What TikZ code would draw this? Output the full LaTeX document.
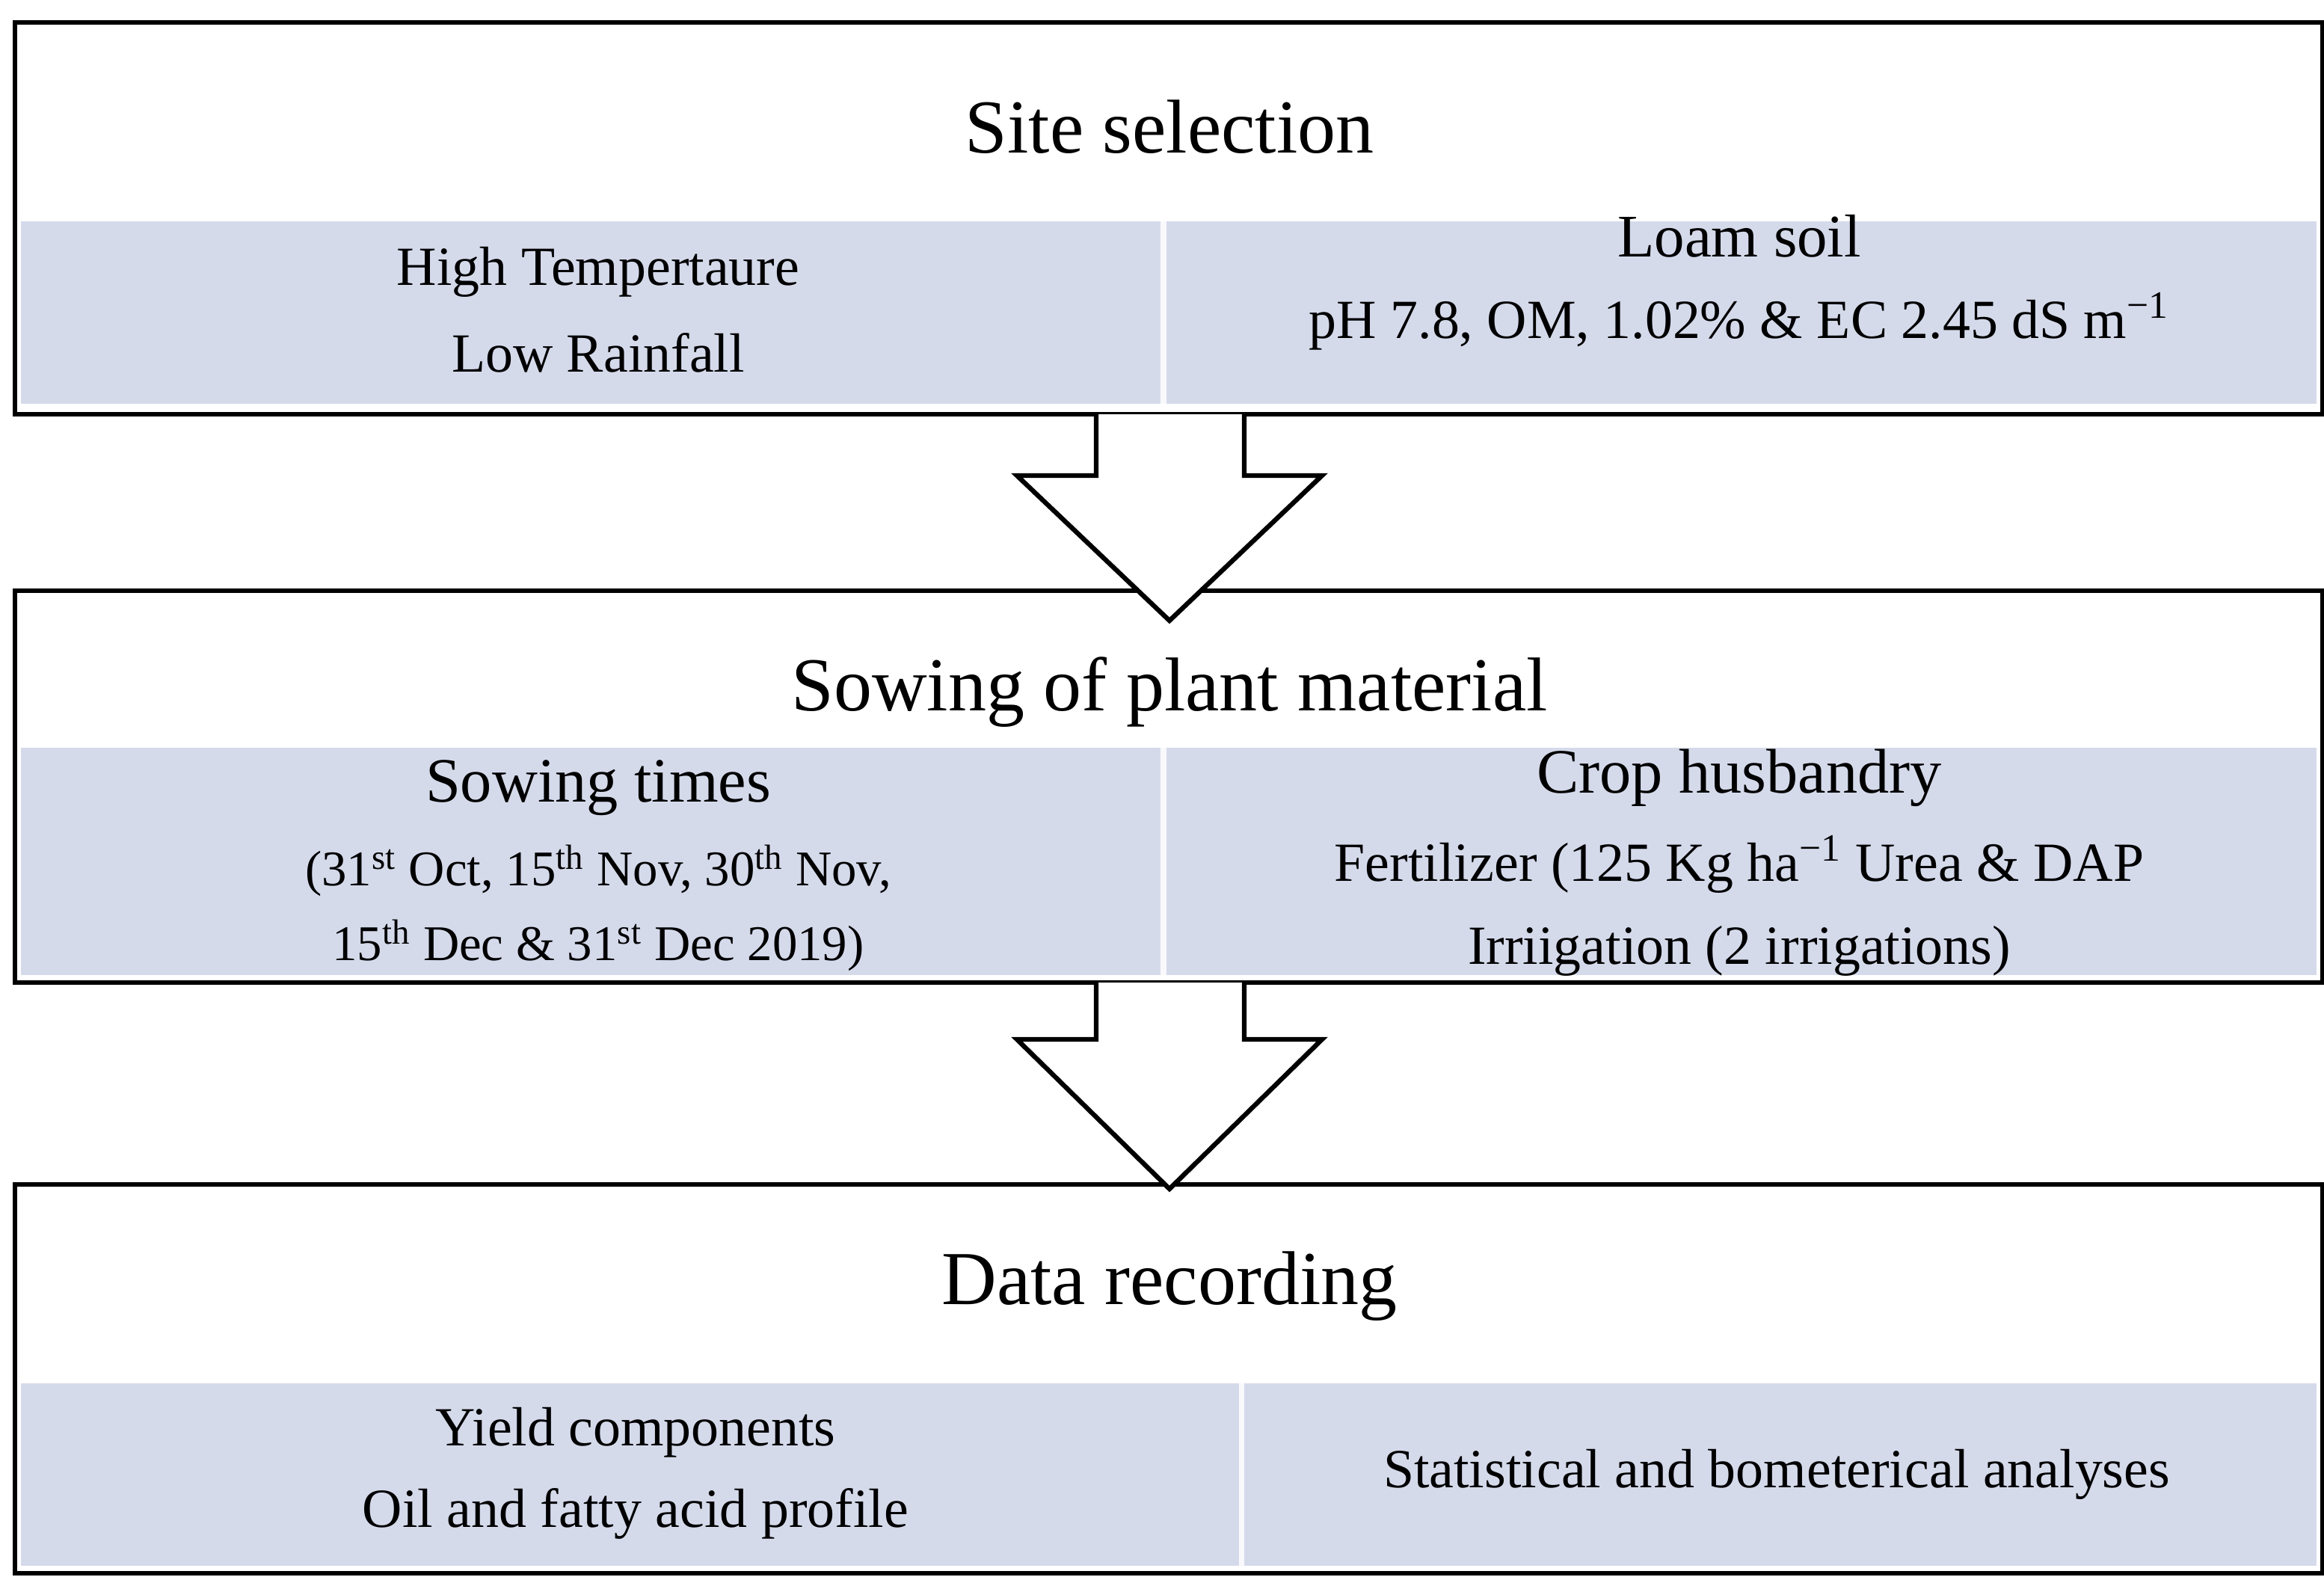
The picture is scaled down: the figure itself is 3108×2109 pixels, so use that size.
\documentclass[tikz,border=0pt]{standalone}
\usepackage{fontspec}
\setmainfont{Liberation Serif}
\begin{document}
\begin{tikzpicture}[x=0.01cm,y=-0.01cm,
  box/.style={draw=black,line width=1.8pt},
  band/.style={fill=bandc,draw=none},
  divl/.style={draw=white!85!bandc,line width=2pt},
  arr/.style={draw=black,fill=white,line width=1.8pt,line join=miter},
  ttl/.style={font=\fontsize{29}{34}\selectfont},
  sub/.style={font=\fontsize{21}{25}\selectfont},
  sub2/.style={font=\fontsize{19}{23}\selectfont}]
\definecolor{bandc}{HTML}{D5DAEB}
\useasboundingbox (0,0) rectangle (3108,2109);
% box 1
\fill[white] (20,30) rectangle (3106,554);
\fill[bandc] (28,296) rectangle (3098,540);
\draw[divl] (1556,296) -- (1556,540);
\draw[box] (20,30) rectangle (3106,554);
% box 2
\fill[white] (20,790) rectangle (3106,1314);
\fill[bandc] (28,1000) rectangle (3098,1304);
\draw[divl] (1556,1000) -- (1556,1304);
\draw[box] (20,790) rectangle (3106,1314);
% box 3
\fill[white] (20,1584) rectangle (3106,2104);
\fill[bandc] (28,1850) rectangle (3098,2094);
\draw[divl] (1660,1850) -- (1660,2094);
\draw[box] (20,1584) rectangle (3106,2104);
% arrows
\draw[arr] (1466,554) -- (1466,636) -- (1360,636) -- (1564,830) -- (1768,636) -- (1664,636) -- (1664,554);
\draw[arr] (1466,1314) -- (1466,1390) -- (1360,1390) -- (1564,1590) -- (1768,1390) -- (1664,1390) -- (1664,1314);
% texts
\node[ttl] (t1) at (1564,170) {Site selection};
\node[sub] (a1) at (800,364) {High Tempertaure};
\node[sub] (a2) at (800,472) {Low Rainfall};
\node[sub,font=\fontsize{23}{27}\selectfont] (b1) at (2326,316) {Loam soil};
\node[sub] (b2) at (2326,430) {pH 7.8, OM, 1.02\% \& EC 2.45 dS m\textsuperscript{−1}};
\node[ttl] (t2) at (1564,926) {Sowing of plant material};
\node[sub,font=\fontsize{24}{28}\selectfont] (c1) at (800,1054) {Sowing times};
\node[sub2] (c2) at (800,1164) {(31\textsuperscript{st} Oct, 15\textsuperscript{th} Nov, 30\textsuperscript{th} Nov,};
\node[sub2] (c3) at (800,1264) {15\textsuperscript{th} Dec \& 31\textsuperscript{st} Dec 2019)};
\node[sub,font=\fontsize{24}{28}\selectfont] (d1) at (2326,1040) {Crop husbandry};
\node[sub] (d2) at (2326,1156) {Fertilizer (125 Kg ha\textsuperscript{−1} Urea \& DAP};
\node[sub] (d3) at (2326,1272) {Irriigation (2 irrigations)};
\node[ttl] (t3) at (1564,1720) {Data recording};
\node[sub] (e1) at (850,1916) {Yield components};
\node[sub] (e2) at (850,2024) {Oil and fatty acid profile};
\node[sub] (f1) at (2376,1972) {Statistical and bometerical analyses};
\end{tikzpicture}
\end{document}
